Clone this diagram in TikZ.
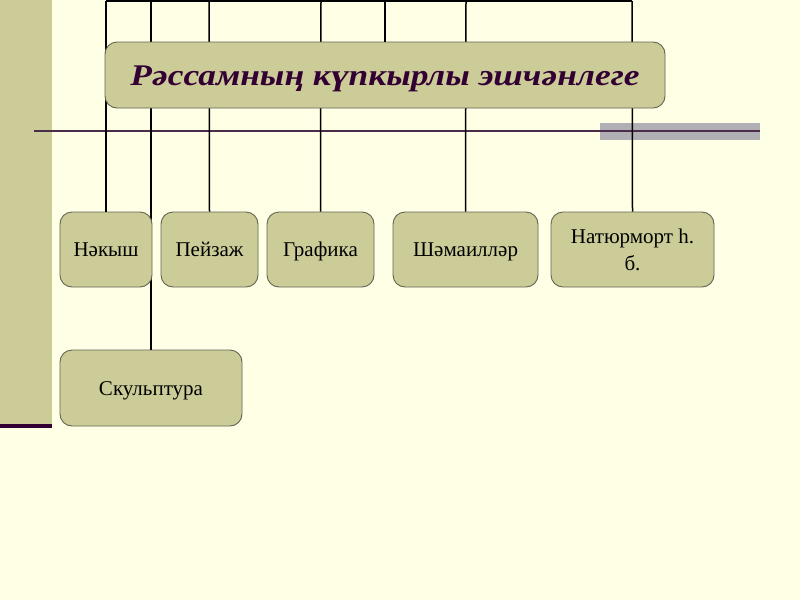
\documentclass[tikz,border=0pt]{standalone}
\usepackage{fontspec}
\setmainfont{Liberation Serif}
\definecolor{bg}{RGB}{255,255,229}
\definecolor{khaki}{RGB}{204,204,153}
\definecolor{boxline}{RGB}{100,100,85}
\definecolor{rule}{RGB}{75,45,75}
\definecolor{titlec}{RGB}{51,0,51}
\definecolor{barg}{RGB}{176,176,180}
\begin{document}
\begin{tikzpicture}[x=1pt,y=-1pt,
  catbox/.style={draw=boxline,line width=0.9pt,fill=khaki,rounded corners=12pt,
    inner sep=0pt,align=center,text height=14pt,text depth=0pt,
    font=\fontsize{21}{26}\selectfont},
  conn/.style={draw=black,line width=1.5pt}]
\useasboundingbox (0,0) rectangle (800,600);
\fill[bg] (0,0) rectangle (800,600);
% left band
\fill[khaki] (0,0) rectangle (52,428);
\fill[titlec] (0,424) rectangle (52,428);
% rule and bar
\fill[barg] (600,123) rectangle (760,140);
\draw[rule,line width=1.6pt] (34,131) -- (760,131);
% top coordinates
\coordinate (t1) at (106,1);
\coordinate (t2) at (151,1);
\coordinate (t3) at (209,1);
\coordinate (t4) at (321,1);
\coordinate (t5) at (385,1);
\coordinate (t6) at (466,1);
\coordinate (t7) at (632,1);
% boxes whose connectors pass behind others
\node[catbox,minimum width=97pt,minimum height=75pt] (pey) at (209.5,249.5) {Пейзаж};
\node[catbox,minimum width=107pt,minimum height=75pt] (gra) at (320.5,249.5) {Графика};
\node[catbox,minimum width=145pt,minimum height=75pt] (sha) at (465.5,249.5) {Шәмаилләр};
\node[catbox,minimum width=163pt,minimum height=75pt,text height={},text depth={}] (nat) at (632.5,249.5) {Натюрморт һ.\\[1pt]б.};
\node[catbox,minimum width=182pt,minimum height=76pt] (sku) at (151,388) {Скульптура};
% connectors
\draw[conn] (t1) -- (t7);
\draw[conn] (t2) -- (sku.north);
\draw[conn] (t3) -- (pey.north);
\draw[conn] (t4) -- (gra.north);
\draw[conn] (t6) -- (sha.north);
\draw[conn] (t7) -- (nat.north);
\node[catbox,minimum width=92pt,minimum height=75pt] (nak) at (106,249.5) {Нәкыш};
\draw[conn] (t1) -- (nak.north);
\node[catbox,minimum width=560pt,minimum height=66pt,text height=21pt,
  font=\fontsize{30}{36}\selectfont\bfseries\itshape,text=titlec] (title) at (385,75)
  {\scalebox{1.18}[1]{Рәссамның күпкырлы эшчәнлеге}};
\draw[conn] (t5) -- (title.north);
\end{tikzpicture}
\end{document}
